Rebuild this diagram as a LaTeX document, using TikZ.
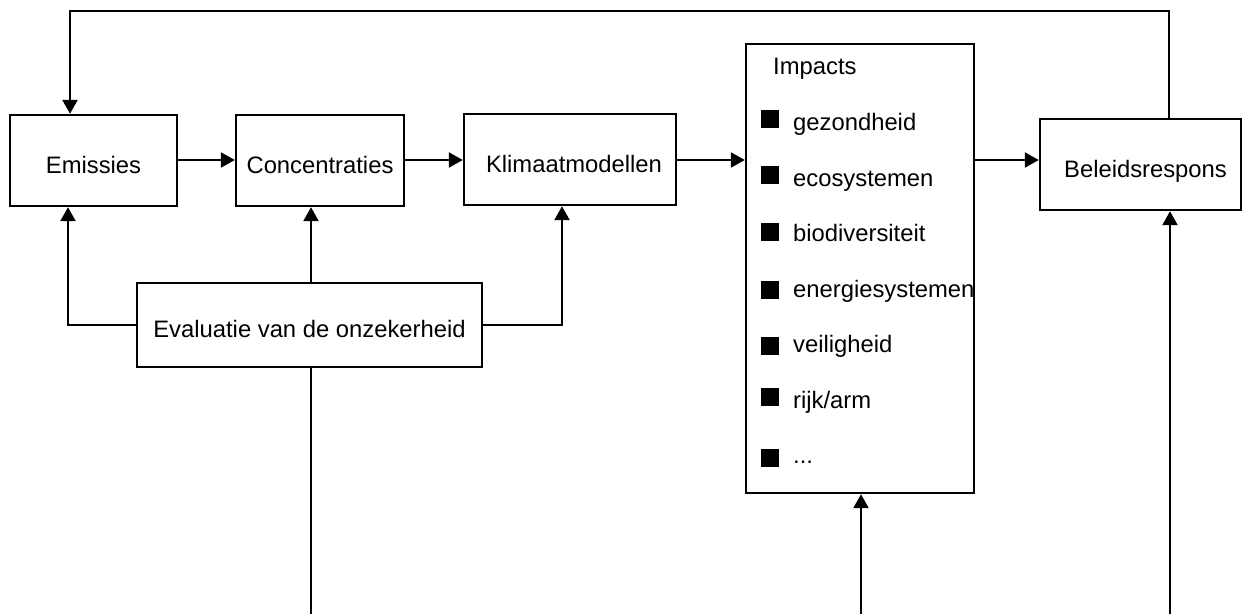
\documentclass[tikz,border=0pt]{standalone}
\usepackage{fontspec}
\setmainfont{Liberation Sans}
\usetikzlibrary{arrows.meta}
\begin{document}
\begin{tikzpicture}[x=1pt,y=-1pt,
  box/.style={draw,line width=2.4pt,inner sep=0pt,text height=25pt,text depth=0pt,font=\fontsize{23.8}{28}\selectfont},
  ln/.style={line width=2.4pt},
  arr/.style={line width=2.4pt,-{Triangle[length=14pt,width=15pt]}},
  bullet/.style={fill=black,minimum size=18pt,inner sep=0pt},
  item/.style={anchor=base west,inner sep=0pt,font=\fontsize{23.8}{28}\selectfont}]
\useasboundingbox (0,0) rectangle (1244,614);
\node[box,minimum width=167pt,minimum height=91pt] (emis) at (93.5,160.5) {Emissies};
\node[box,minimum width=168pt,minimum height=91pt] (conc) at (320,160.5) {Concentraties};
\node[box,minimum width=212pt,minimum height=91pt] (klim) at (570,159.5) {\hspace*{8pt}Klimaatmodellen};
\node[box,minimum width=228pt,minimum height=449pt] (imp) at (860,268.5) {};
\node[box,minimum width=201pt,minimum height=91pt] (bel) at (1140.5,164.5) {\hspace*{10pt}Beleidsrespons};
\node[box,minimum width=345pt,minimum height=84pt] (eval) at (309.5,325) {Evaluatie van de onzekerheid};
% impacts content
\node[item] (ti) at (773,74) {Impacts};
\node[bullet] (b1) at (770,119) {};
\node[item] (t1) at (793,130) {gezondheid};
\node[bullet] (b2) at (770,175) {};
\node[item] (t2) at (793,186) {ecosystemen};
\node[bullet] (b3) at (770,232) {};
\node[item] (t3) at (793,241) {biodiversiteit};
\node[bullet] (b4) at (770,289.5) {};
\node[item] (t4) at (793,297) {energiesystemen};
\node[bullet] (b5) at (770,345.5) {};
\node[item] (t5) at (793,352) {veiligheid};
\node[bullet] (b6) at (770,396.5) {};
\node[item] (t6) at (793,408) {rijk/arm};
\node[bullet] (b7) at (770,458) {};
\node[item] (t7) at (793,463) {...};
% coordinates
\coordinate (hy) at (0,160);
\coordinate (tl) at (70,11);
\coordinate (tr) at (1169,11);
\coordinate (el) at (68,325);
\coordinate (er) at (562,325);
\coordinate (em) at (311,614);
\coordinate (ib) at (861,614);
\coordinate (bb) at (1170,614);
% connectors
\draw[arr] (emis.east |- hy) -- (conc.west |- hy);
\draw[arr] (conc.east |- hy) -- (klim.west |- hy);
\draw[arr] (klim.east |- hy) -- (imp.west |- hy);
\draw[arr] (imp.east |- hy) -- (bel.west |- hy);
\draw[arr] (bel.north -| tr) -- (tr) -- (tl) -- (emis.north -| tl);
\draw[arr] (eval.west) -- (el) -- (emis.south -| el);
\draw[arr] (eval.north -| em) -- (conc.south -| em);
\draw[arr] (eval.east) -- (er) -- (klim.south -| er);
\draw[ln] (eval.south -| em) -- (em);
\draw[arr] (ib) -- (imp.south -| ib);
\draw[arr] (bb) -- (bel.south -| bb);
\end{tikzpicture}
\end{document}
